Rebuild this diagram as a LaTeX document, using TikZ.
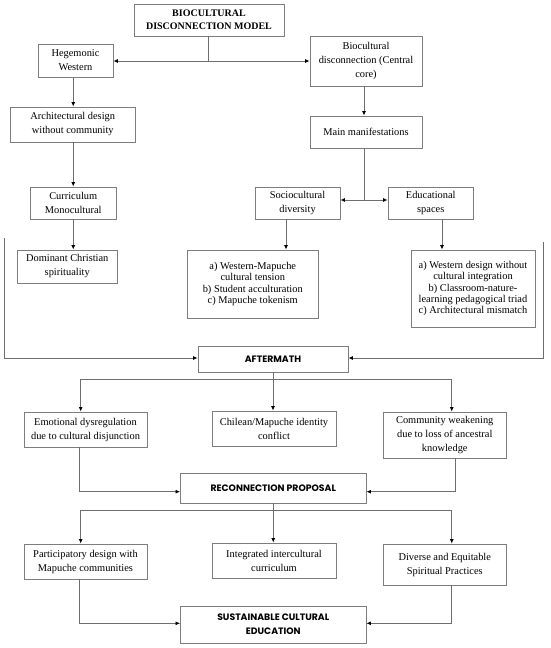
\documentclass[tikz,border=0pt]{standalone}
\usepackage{fontspec}
\setmainfont{Liberation Serif}
\newfontfamily\poppfont{Poppins}
\usetikzlibrary{arrows.meta,calc}
\definecolor{boxgray}{RGB}{125,125,125}
\definecolor{linegray}{RGB}{110,110,110}
\begin{document}
\begin{tikzpicture}[x=1pt,y=-1pt,
  box/.style={draw=boxgray,line width=0.9pt,fill=white,rectangle,inner sep=0pt,align=center,
    font=\fontsize{10.4}{14}\selectfont},
  listbox/.style={box,font=\fontsize{10.4}{11.4}\selectfont},
  titlebox/.style={box,font=\bfseries\fontsize{10}{12.7}\selectfont},
  capbox/.style={box,font=\poppfont\bfseries\fontsize{9.3}{13.7}\selectfont},
  conn/.style={draw=linegray,line width=0.8pt},
  arr/.style={conn,-{Latex[length=4.5pt,width=4pt,color=black]}}]
\useasboundingbox (0,0) rectangle (550,648);
\fill[white] (0,0) rectangle (550,648);

% nodes
\node[titlebox,minimum width=150pt,minimum height=32pt] (top) at (209,20) {BIOCULTURAL\\DISCONNECTION MODEL};
\node[box,minimum width=75pt,minimum height=33pt] (heg) at (75.5,60.5) {Hegemonic\\Western};
\node[box,minimum width=112pt,minimum height=50pt] (bio) at (366,61) {Biocultural\\disconnection (Central\\core)};
\node[box,minimum width=124.5pt,minimum height=35pt] (arch) at (72.75,124.5) {Architectural design\\without community};
\node[box,minimum width=112pt,minimum height=32pt] (main) at (366,132) {Main manifestations};
\node[box,minimum width=85.5pt,minimum height=32pt] (curr) at (73.25,203) {Curriculum\\Monocultural};
\node[box,minimum width=85pt,minimum height=32pt] (soc) at (297.5,203) {Sociocultural\\diversity};
\node[box,minimum width=85.5pt,minimum height=32pt] (edu) at (430.75,203) {Educational\\spaces};
\node[box,minimum width=99.5pt,minimum height=33pt] (dom) at (67.25,266.5) {Dominant Christian\\spirituality};
\node[listbox,minimum width=130.5pt,minimum height=68pt] (soclist) at (252.75,284) {a) Western-Mapuche\\cultural tension\\b) Student acculturation\\c) Mapuche tokenism};
\node[listbox,minimum width=124pt,minimum height=77pt] (edulist) at (473,288.5) {a) Western design without\\cultural integration\\b) Classroom-nature-\\learning pedagogical triad\\c) Architectural mismatch};
\node[capbox,minimum width=150pt,minimum height=26pt] (after) at (273,359) {AFTERMATH};
\node[box,minimum width=123pt,minimum height=35pt] (emo) at (85.5,429.5) {Emotional dysregulation\\due to cultural disjunction};
\node[box,minimum width=124pt,minimum height=35pt] (chil) at (274,428.5) {Chilean/Mapuche identity\\conflict};
\node[box,minimum width=123.5pt,minimum height=46pt] (comm) at (444.75,435) {Community weakening\\due to loss of ancestral\\knowledge};
\node[capbox,minimum width=185.5pt,minimum height=30pt] (recon) at (273.25,488) {RECONNECTION PROPOSAL};
\node[box,minimum width=123pt,minimum height=35pt] (part) at (85.5,561.5) {Participatory design with\\Mapuche communities};
\node[box,minimum width=124pt,minimum height=35pt] (integ) at (274,560.5) {Integrated intercultural\\curriculum};
\node[box,minimum width=123.5pt,minimum height=41pt] (div) at (444.75,564.5) {Diverse and Equitable\\Spiritual Practices};
\node[capbox,minimum width=185.5pt,minimum height=37pt] (sust) at (273.25,624.5) {SUSTAINABLE CULTURAL\\EDUCATION};

% top split
\coordinate (s1) at ([xshift=-1pt]top.south |- bio.west);
\draw[conn] ([xshift=-1pt]top.south) -- (s1);
\draw[arr] (s1) -- (s1 -| heg.east);
\draw[arr] (s1) -- (bio.west);

% left column
\draw[arr] (heg.south -| curr.north) -- (arch.north -| curr.north);
\draw[arr] (arch.south -| curr.north) -- (curr.north);
\draw[arr] (curr.south) -- (dom.north -| curr.south);

% right column
\draw[arr] ([xshift=-2pt]bio.south) -- ([xshift=-2pt]main.north);
\coordinate (s2) at ([xshift=-2pt,yshift=3pt]main.south |- soc.east);
\draw[conn] ([xshift=-2pt]main.south) -- (s2);
\draw[arr] (s2) -- (s2 -| soc.east);
\draw[arr] (s2) -- (s2 -| edu.west);
\draw[arr] ([xshift=-11.5pt]soc.south) -- ([xshift=-11.5pt]soc.south |- soclist.north);
\draw[arr] ([xshift=11.25pt]edu.south) -- ([xshift=11.25pt]edu.south |- edulist.north);

% side lines into aftermath
\coordinate (L1) at (4.5,238);
\coordinate (R1) at (543,242);
\draw[arr] (L1) |- ([yshift=1pt]after.west);
\draw[arr] (R1) |- ([yshift=1pt]after.east);

% aftermath branch
\draw[conn] (after.south) -- ++(0,6.5) coordinate (b1);
\draw[arr] (b1) -- (b1 |- chil.north);
\draw[arr] (b1) -| ([xshift=-4.8pt]emo.north);
\draw[arr] (b1) -| ([xshift=7pt]comm.north);

% into reconnection
\draw[arr] ([xshift=-6.5pt]emo.south) |- ([yshift=-3.7pt]recon.west);
\draw[arr] ([xshift=10.2pt]comm.south) |- ([yshift=-3.7pt]recon.east);

% reconnection branch
\draw[conn] (recon.south) -- ++(0,6.7) coordinate (b2);
\draw[arr] (b2) -- (b2 |- integ.north);
\draw[arr] (b2) -| ([xshift=-4.8pt]part.north);
\draw[arr] (b2) -| ([xshift=7pt]div.north);

% into sustainable
\draw[arr] ([xshift=-6.5pt]part.south) |- ([yshift=1.2pt]sust.west);
\draw[arr] ([xshift=7pt]div.south) |- ([yshift=1.2pt]sust.east);
\end{tikzpicture}
\end{document}
